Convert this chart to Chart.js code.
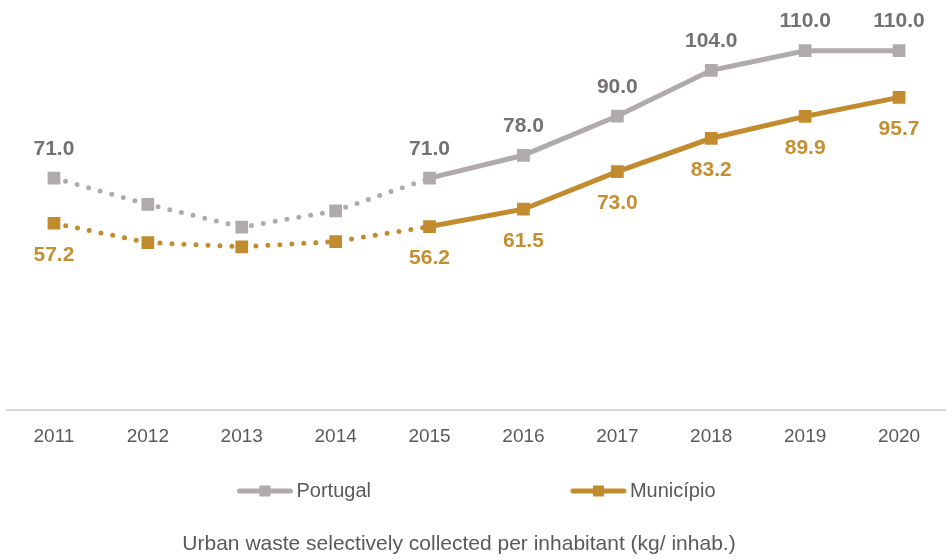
<!DOCTYPE html>
<html>
<head>
<meta charset="utf-8">
<script src="https://cdn.jsdelivr.net/npm/chart.js@4"></script>
<style>
  body { margin: 0; background: #fff; }
</style>
</head>
<body>
<canvas id="wasteChart" width="946" height="559"></canvas>
<script>
const years = ['2011', '2012', '2013', '2014', '2015', '2016', '2017', '2018', '2019', '2020'];
const portugal = [71.0, 63.0, 56.0, 61.0, 71.0, 78.0, 90.0, 104.0, 110.0, 110.0];
const municipio = [57.2, 51.3, 50.0, 51.6, 56.2, 61.5, 73.0, 83.2, 89.9, 95.7];
// which points get a value label (2012-2014 are estimates, no label)
const labelled = [true, false, false, false, true, true, true, true, true, true];
const lastEstimated = 4; // dotted up to 2015
const caption = 'Urban waste selectively collected per inhabitant (kg/ inhab.)';

const grey = '#AFABAB';
const greyText = '#767171';
const gold = '#C18B2E';
const goldText = '#C58F31';
const textColor = '#595959';

Chart.defaults.font.family = "'Liberation Sans', Arial, sans-serif";

// value labels above / below the points
const valueLabels = {
    id: 'valueLabels',
    afterDatasetsDraw(chart) {
        const ctx = chart.ctx;
        ctx.save();
        ctx.font = "bold 21px 'Liberation Sans', Arial, sans-serif";
        ctx.textAlign = 'center';
        ctx.textBaseline = 'middle';
        chart.data.datasets.forEach((ds, di) => {
            const meta = chart.getDatasetMeta(di);
            meta.data.forEach((pt, i) => {
                if (!labelled[i]) return;
                ctx.fillStyle = ds.labelColor;
                const dy = ds.labelPos == 'above' ? -29 : 32;
                ctx.fillText(ds.data[i].toFixed(1), pt.x, pt.y + dy);
            });
        });
        ctx.restore();
    }
};

// legend with wide gap + caption underneath
const bottomLegend = {
    id: 'bottomLegend',
    afterDraw(chart) {
        const ctx = chart.ctx;
        const area = chart.chartArea;
        ctx.save();
        ctx.font = "20px 'Liberation Sans', Arial, sans-serif";
        const lineLen = 55;
        const gap = 200;
        const items = chart.data.datasets.map(ds => {
            const w = ctx.measureText(ds.label).width;
            return { ds: ds, w: lineLen + 4 + w };
        });
        const total = items.reduce((s, it) => s + it.w, 0) + gap * (items.length - 1);
        let x = (area.left + area.right) / 2 - total / 2;
        const y = 491;
        items.forEach(it => {
            ctx.strokeStyle = it.ds.borderColor;
            ctx.lineWidth = 5;
            ctx.lineCap = 'round';
            ctx.beginPath();
            ctx.moveTo(x + 2, y);
            ctx.lineTo(x + lineLen - 2, y);
            ctx.stroke();
            ctx.fillStyle = it.ds.borderColor;
            ctx.fillRect(x + lineLen / 2 - 5.5, y - 5.5, 11, 11);
            ctx.fillStyle = textColor;
            ctx.textAlign = 'left';
            ctx.textBaseline = 'middle';
            ctx.fillText(it.ds.label, x + lineLen + 4, y);
            x += it.w + gap;
        });

        ctx.font = "21px 'Liberation Sans', Arial, sans-serif";
        ctx.textAlign = 'center';
        ctx.fillText(caption, 459, 544);
        ctx.restore();
    }
};

const dotted = ctx => ctx.p0DataIndex < lastEstimated ? [0, 12] : [];

new Chart(document.getElementById('wasteChart'), {
    type: 'line',
    data: {
        labels: years,
        datasets: [{
            label: 'Portugal',
            data: portugal,
            borderColor: grey,
            backgroundColor: grey,
            borderWidth: 5,
            borderCapStyle: 'round',
            pointStyle: 'rect',
            pointRadius: 9,
            pointBorderWidth: 0,
            pointBackgroundColor: grey,
            labelColor: greyText,
            labelPos: 'above',
            segment: { borderDash: dotted }
        }, {
            label: 'Município',
            data: municipio,
            borderColor: gold,
            backgroundColor: gold,
            borderWidth: 5,
            borderCapStyle: 'round',
            pointStyle: 'rect',
            pointRadius: 9,
            pointBorderWidth: 0,
            pointBackgroundColor: gold,
            labelColor: goldText,
            labelPos: 'below',
            segment: { borderDash: dotted }
        }]
    },
    options: {
        responsive: false,
        animation: false,
        layout: {
            autoPadding: false,
            padding: { left: 7, right: 0, top: 18, bottom: 96 }
        },
        plugins: {
            legend: { display: false },
            tooltip: { enabled: false }
        },
        scales: {
            x: {
                offset: true,
                grid: { display: false, drawTicks: false },
                border: { display: true, color: '#D9D9D9', width: 2 },
                ticks: {
                    color: textColor,
                    font: { size: 19 },
                    padding: 15,
                    maxRotation: 0
                },
                afterFit(scale) {
                    // offset already leaves room for the end labels
                    scale.paddingLeft = 0;
                    scale.paddingRight = 0;
                }
            },
            y: {
                display: false,
                min: 0,
                max: 120
            }
        }
    },
    plugins: [valueLabels, bottomLegend]
});
</script>
</body>
</html>
